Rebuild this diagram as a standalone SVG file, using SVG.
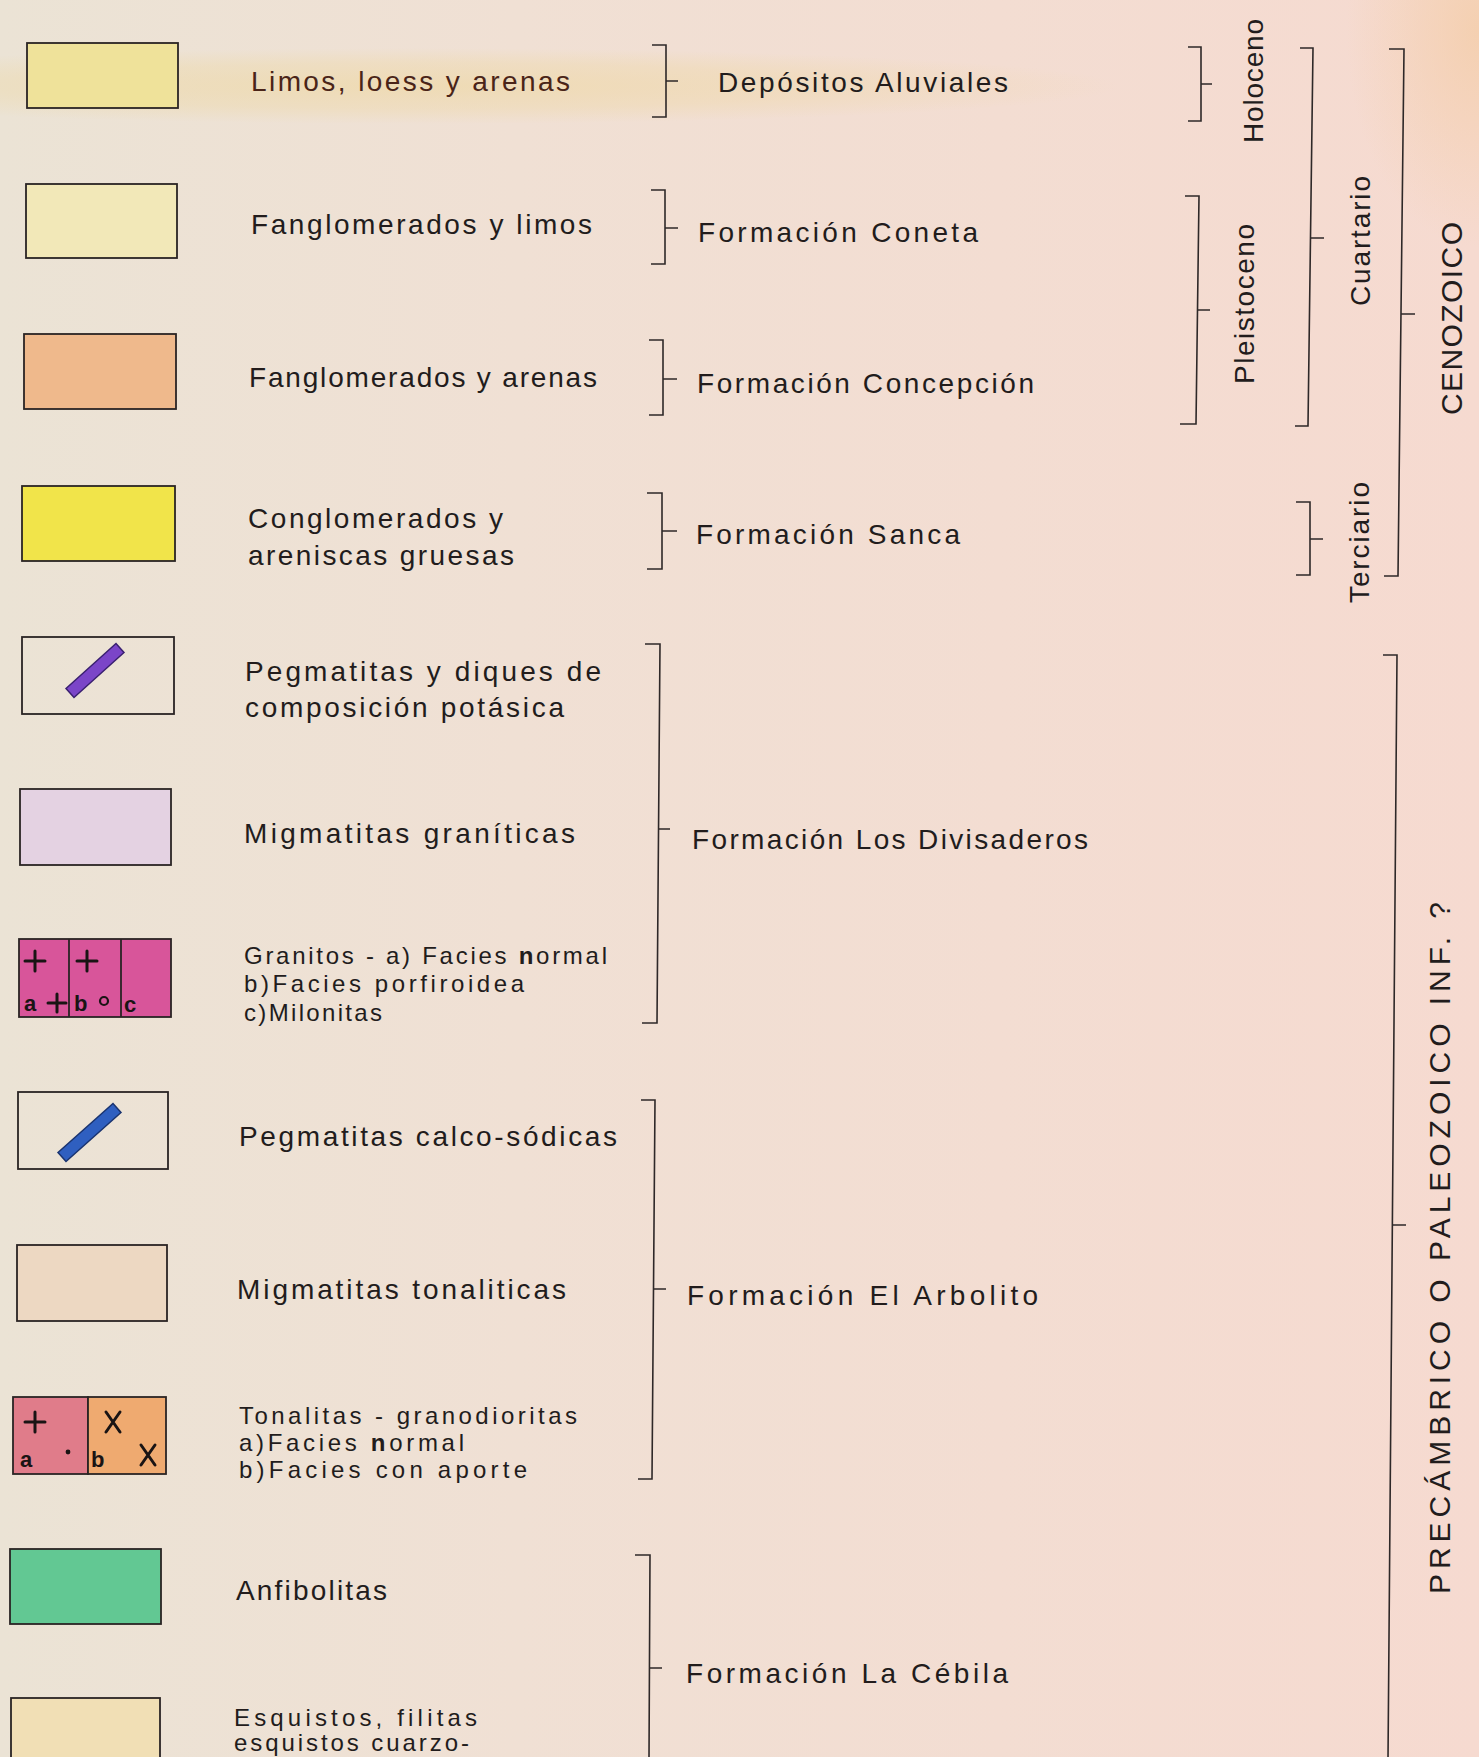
<svg xmlns="http://www.w3.org/2000/svg" width="1479" height="1757" viewBox="0 0 1479 1757">
<defs>
<linearGradient id="paper" x1="0" y1="0" x2="1" y2="0">
<stop offset="0" stop-color="#ebe3d5"/>
<stop offset="0.35" stop-color="#f0e0d4"/>
<stop offset="1" stop-color="#f6dad0"/>
</linearGradient>
<radialGradient id="fold" cx="0.5" cy="0.5" r="0.5">
<stop offset="0" stop-color="#eed7a0" stop-opacity="0.6"/>
<stop offset="0.6" stop-color="#eed7a0" stop-opacity="0.35"/>
<stop offset="1" stop-color="#eed7a0" stop-opacity="0"/>
</radialGradient>
<radialGradient id="corner" cx="1" cy="0.05" r="0.35">
<stop offset="0" stop-color="#f3c99c" stop-opacity="0.6"/>
<stop offset="1" stop-color="#f3c99c" stop-opacity="0"/>
</radialGradient>
<style>
.box{stroke:#2a2424;stroke-width:1.8}
.lbl{font-family:"Liberation Sans",Arial,sans-serif;font-size:28px;fill:#221c1c}
.sub{font-family:"Liberation Sans",Arial,sans-serif;font-size:24px;fill:#221c1c}
.sym{font-family:"Liberation Sans",Arial,sans-serif;font-size:22px;font-weight:bold;fill:#1a1414}
.big{font-family:"Liberation Sans",Arial,sans-serif;font-size:30px;fill:#221c1c}
.br{fill:none;stroke:#2e2828;stroke-width:1.6}
.mk{fill:none;stroke:#1a1414;stroke-width:3;stroke-linecap:round}
</style>
</defs>
<rect width="1479" height="1757" fill="url(#paper)"/>
<ellipse cx="420" cy="86" rx="700" ry="38" fill="url(#fold)"/>
<rect x="1100" y="0" width="379" height="620" fill="url(#corner)"/>

<g id="legend-limos">
<rect class="box" x="27" y="43" width="151" height="65" fill="#efe29a"/>
<text class="lbl" x="251" y="91" textLength="319" lengthAdjust="spacing" style="fill:#4a2418">Limos, loess y arenas</text>
</g>
<g id="legend-fanglomerados-limos">
<rect class="box" x="26" y="184" width="151" height="74" fill="#f2e8b8"/>
<text class="lbl" x="251" y="234" textLength="341" lengthAdjust="spacing">Fanglomerados y limos</text>
</g>
<g id="legend-fanglomerados-arenas">
<rect class="box" x="24" y="334" width="152" height="75" fill="#efb98c"/>
<text class="lbl" x="249" y="387" textLength="348" lengthAdjust="spacing">Fanglomerados y arenas</text>
</g>
<g id="legend-conglomerados">
<rect class="box" x="22" y="486" width="153" height="75" fill="#f1e44a"/>
<text class="lbl" x="248" y="528" textLength="255" lengthAdjust="spacing">Conglomerados y</text>
<text class="lbl" x="248" y="565" textLength="266" lengthAdjust="spacing">areniscas gruesas</text>
</g>
<g id="legend-pegmatitas-potasicas">
<rect class="box" x="22" y="637" width="152" height="77" fill="none"/>
<polygon points="66,688.5 74,697.5 124,652.5 116,643.5" fill="#7b45c8" stroke="#3a2070" stroke-width="1.5"/>
<text class="lbl" x="245" y="681" textLength="356" lengthAdjust="spacing">Pegmatitas y diques de</text>
<text class="lbl" x="245" y="717" textLength="319" lengthAdjust="spacing">composición potásica</text>
</g>
<g id="legend-migmatitas-graniticas">
<rect class="box" x="20" y="789" width="151" height="76" fill="#e4d2e2"/>
<text class="lbl" x="244" y="843" textLength="331" lengthAdjust="spacing">Migmatitas graníticas</text>
</g>
<g id="legend-granitos">
<rect class="box" x="19" y="939" width="152" height="78" fill="#d8559a"/>
<line x1="69" y1="939" x2="69" y2="1017" class="box"/>
<line x1="121" y1="939" x2="121" y2="1017" class="box"/>
<path class="mk" d="M25,961 H45 M35,951 V971 M77,961 H97 M87,951 V971 M48,1003 H66 M57,994 V1012"/>
<circle cx="104" cy="1001" r="4" fill="none" stroke="#1a1414" stroke-width="2.2"/>
<text class="sym" x="24" y="1011">a</text>
<text class="sym" x="74" y="1011">b</text>
<text class="sym" x="124" y="1012">c</text>
<text class="sub" x="244" y="964" textLength="363" lengthAdjust="spacing">Granitos - a) Facies <tspan font-weight="bold">n</tspan>ormal</text>
<text class="sub" x="244" y="992" textLength="280" lengthAdjust="spacing">b)Facies porfiroidea</text>
<text class="sub" x="244" y="1021" textLength="138" lengthAdjust="spacing">c)Milonitas</text>
</g>
<g id="legend-pegmatitas-calcosodicas">
<rect class="box" x="18" y="1092" width="150" height="77" fill="none"/>
<polygon points="58,1152.5 66,1161.5 121,1112.5 113,1103.5" fill="#2f5fc0" stroke="#1a3470" stroke-width="1.5"/>
<text class="lbl" x="239" y="1146" textLength="378" lengthAdjust="spacing">Pegmatitas calco-sódicas</text>
</g>
<g id="legend-migmatitas-tonaliticas">
<rect class="box" x="17" y="1245" width="150" height="76" fill="#edd8c2"/>
<text class="lbl" x="237" y="1299" textLength="329" lengthAdjust="spacing">Migmatitas tonaliticas</text>
</g>
<g id="legend-tonalitas">
<rect class="box" x="13" y="1397" width="75" height="77" fill="#e07c8a"/>
<rect class="box" x="88" y="1397" width="78" height="77" fill="#efaa70"/>
<path class="mk" d="M25,1422 H45 M35,1412 V1432 M106,1412 L120,1432 M120,1412 L106,1432 M141,1445 L155,1465 M155,1445 L141,1465"/>
<circle cx="68" cy="1452" r="2.4" fill="#1a1414"/>
<text class="sym" x="20" y="1467">a</text>
<text class="sym" x="91" y="1467">b</text>
<text class="sub" x="239" y="1424" textLength="338" lengthAdjust="spacing">Tonalitas - granodioritas</text>
<text class="sub" x="239" y="1451" textLength="225" lengthAdjust="spacing">a)Facies <tspan font-weight="bold">n</tspan>ormal</text>
<text class="sub" x="239" y="1478" textLength="288" lengthAdjust="spacing">b)Facies con aporte</text>
</g>
<g id="legend-anfibolitas">
<rect class="box" x="10" y="1549" width="151" height="75" fill="#62c893"/>
<text class="lbl" x="236" y="1600" textLength="151" lengthAdjust="spacing">Anfibolitas</text>
</g>
<g id="legend-esquistos">
<rect class="box" x="11" y="1698" width="149" height="70" fill="#f1dfb5"/>
<text class="sub" x="234" y="1726" textLength="243" lengthAdjust="spacing">Esquistos, filitas</text>
<text class="sub" x="234" y="1751" textLength="235" lengthAdjust="spacing">esquistos cuarzo-</text>
</g>

<g id="connectors">
<path class="br" d="M652,45 H666 V117 H652 M666,81 H678"/>
<path class="br" d="M651,190 H665 V264 H651 M665,228 H678"/>
<path class="br" d="M649,340 H663 V415 H649 M663,379 H677"/>
<path class="br" d="M647,493 H662 V569 H647 M662,531 H677"/>
<path class="br" d="M645,644 H660 L657,1023 H642 M658,829 H670"/>
<path class="br" d="M641,1100 H655 L652,1479 H638 M653,1289 H666"/>
<path class="br" d="M635,1555 H650 L649,1760 M650,1668 H662"/>
<path class="br" d="M1188,47 H1201 V121 H1188 M1201,84 H1212"/>
<path class="br" d="M1185,196 H1199 L1196,424 H1180 M1198,310 H1210"/>
<path class="br" d="M1300,48 H1313 L1308,426 H1295 M1311,238 H1324"/>
<path class="br" d="M1296,502 H1310 V575 H1296 M1310,539 H1323"/>
<path class="br" d="M1389,49 H1404 L1398,576 H1384 M1401,314 H1415"/>
<path class="br" d="M1383,655 H1397 L1388,1760 M1393,1225 H1406"/>
</g>

<g id="formation-aluviales"><text class="lbl" x="718" y="92" textLength="290" lengthAdjust="spacing">Depósitos Aluviales</text></g>
<g id="formation-coneta"><text class="lbl" x="698" y="242" textLength="280" lengthAdjust="spacing">Formación Coneta</text></g>
<g id="formation-concepcion"><text class="lbl" x="697" y="393" textLength="337" lengthAdjust="spacing">Formación Concepción</text></g>
<g id="formation-sanca"><text class="lbl" x="696" y="544" textLength="264" lengthAdjust="spacing">Formación Sanca</text></g>
<g id="formation-divisaderos"><text class="lbl" x="692" y="849" textLength="396" lengthAdjust="spacing">Formación Los Divisaderos</text></g>
<g id="formation-arbolito"><text class="lbl" x="687" y="1305" textLength="351" lengthAdjust="spacing">Formación El Arbolito</text></g>
<g id="formation-cebila"><text class="lbl" x="686" y="1683" textLength="322" lengthAdjust="spacing">Formación La Cébila</text></g>

<g id="epoch-holoceno"><text class="lbl" transform="translate(1263,143) rotate(-90)" textLength="124" lengthAdjust="spacing">Holoceno</text></g>
<g id="epoch-pleistoceno"><text class="lbl" transform="translate(1254,384) rotate(-90)" textLength="160" lengthAdjust="spacing">Pleistoceno</text></g>
<g id="period-cuartario"><text class="lbl" transform="translate(1370,306) rotate(-90)" textLength="130" lengthAdjust="spacing">Cuartario</text></g>
<g id="period-terciario"><text class="lbl" transform="translate(1369,603) rotate(-90)" textLength="121" lengthAdjust="spacing">Terciario</text></g>
<g id="era-cenozoico"><text class="big" transform="translate(1462,415) rotate(-90)" textLength="193" lengthAdjust="spacing">CENOZOICO</text></g>
<g id="era-precambrico"><text class="big" transform="translate(1450,1594) rotate(-90)" textLength="692" lengthAdjust="spacing">PRECÁMBRICO O PALEOZOICO INF. ?</text></g>
</svg>
